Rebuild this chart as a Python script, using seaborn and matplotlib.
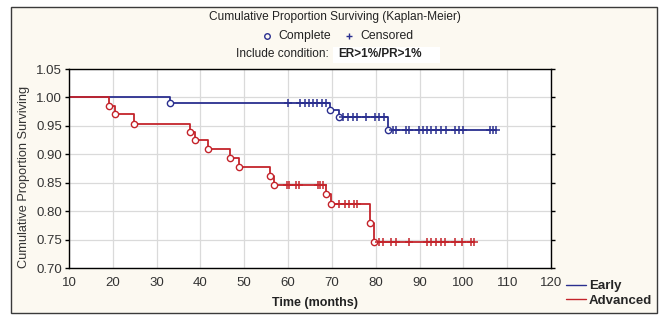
import matplotlib
matplotlib.use("Agg")
import matplotlib.pyplot as plt
import numpy as np
import pandas as pd
import seaborn as sns
from matplotlib.patches import Rectangle
from matplotlib.lines import Line2D

# Kaplan-Meier data
# Early group
early_event_t = [33.0, 69.5, 71.7, 82.7]
early_event_s = [0.990, 0.978, 0.965, 0.943]
early_cens_t = [60.0, 62.8, 63.8, 64.8, 65.7, 66.7, 67.7, 68.7,
                72.5, 73.6, 74.7, 75.8, 77.8, 79.9, 80.8, 82.0,
                83.9, 84.6, 86.9, 87.6, 89.9, 90.8, 91.8, 92.7, 93.7, 94.8,
                96.0, 98.2, 99.0, 100.0, 106.0, 106.8, 107.4]
early_end = 107.4

# Advanced group
adv_event_t = [19.2, 20.5, 24.8, 37.7, 38.7, 41.7, 46.8, 48.8, 55.8, 56.7,
               68.7, 69.8, 78.8, 79.7]
adv_event_s = [0.985, 0.971, 0.954, 0.940, 0.925, 0.909, 0.894, 0.878, 0.862,
               0.846, 0.830, 0.812, 0.780, 0.746]
adv_cens_t = [59.8, 60.3, 61.8, 62.4, 66.8, 67.3, 67.9,
              71.7, 72.9, 74.0, 75.0, 75.7,
              80.8, 81.6, 83.5, 84.6, 87.7, 91.8, 92.6, 93.7, 94.8, 95.9,
              98.2, 99.8, 101.7, 102.5]
adv_end = 102.5

groups = ["Early", "Advanced"]
colors = {"Early": "#2a2f8f", "Advanced": "#c4242b"}
x_ticks = list(range(10, 121, 10))
y_ticks = [0.70, 0.75, 0.80, 0.85, 0.90, 0.95, 1.00, 1.05]

sns.set_style("whitegrid")
plt.rcParams["font.family"] = ["Liberation Sans", "DejaVu Sans"]


def curve(name, ev_t, ev_s, end):
    t = [10.0] + ev_t + [end]
    s = [1.0] + ev_s + [ev_s[-1]]
    return pd.DataFrame({"time": t, "surv": s, "group": name})


def level_at(ev_t, ev_s, times):
    t = np.array([10.0] + ev_t)
    s = np.array([1.0] + ev_s)
    idx = np.searchsorted(t, np.array(times), side="right") - 1
    return s[idx]


df = pd.concat([curve("Early", early_event_t, early_event_s, early_end),
                curve("Advanced", adv_event_t, adv_event_s, adv_end)])

fig = plt.figure(figsize=(6.59, 3.16), dpi=100, facecolor="white")
fig.add_artist(Rectangle((11 / 659, 1 - 313 / 316), 646 / 659, 306 / 316,
                         transform=fig.transFigure, facecolor="#fcf9f1",
                         edgecolor="#3a3a3a", lw=1.0, zorder=-1))
ax = fig.add_axes([69 / 659, 1 - 268 / 316, 482 / 659, 199 / 316])
ax.set_facecolor("white")

sns.lineplot(data=df, x="time", y="surv", hue="group", hue_order=groups,
             palette=colors, drawstyle="steps-post", estimator=None, sort=False,
             linewidth=1.3, legend=False, ax=ax)

for name, ev_t, ev_s, cens in [("Early", early_event_t, early_event_s, early_cens_t),
                               ("Advanced", adv_event_t, adv_event_s, adv_cens_t)]:
    c = colors[name]
    ax.plot(ev_t, ev_s, linestyle="none", marker="o", markersize=4.5,
            markerfacecolor="white", markeredgecolor=c, markeredgewidth=1.0, zorder=4)
    ax.plot(cens, level_at(ev_t, ev_s, cens), linestyle="none", marker="+",
            markersize=6, markeredgewidth=1.1, color=c, zorder=4)

ax.set_xlim(10, 120)
ax.set_ylim(0.70, 1.05)
ax.set_xticks(x_ticks)
ax.set_yticks(y_ticks)
ax.set_yticklabels([f"{v:.2f}" for v in y_ticks])
ax.grid(True, color="#dadada", linewidth=0.9)
for sp in ax.spines.values():
    sp.set_color("black")
    sp.set_linewidth(1.0)
ax.tick_params(axis="y", which="both", left=True, right=True, direction="out",
               length=3, width=1, color="black", labelsize=9.5, labelcolor="#333333", pad=2)
ax.tick_params(axis="x", bottom=False, labelsize=9.5, labelcolor="#333333", pad=3)
ax.set_xlabel("")
ax.set_ylabel("")

fig.text(24 / 659, 1 - 177 / 316, "Cumulative Proportion Surviving", rotation=90,
         ha="center", va="center", fontsize=9.2, color="#333333")
fig.text(315 / 659, 1 - 303 / 316, "Time (months)", ha="center", va="center",
         fontsize=9, fontweight="bold", color="#222222")

# header texts
fig.text(335 / 659, 1 - 17 / 316, "Cumulative Proportion Surviving (Kaplan-Meier)",
         ha="center", va="center", fontsize=8.6, color="#222222")
fig.add_artist(Line2D([267 / 659], [1 - 36 / 316], marker="o", markersize=4,
                      markerfacecolor="none", markeredgecolor="#2a2f8f",
                      markeredgewidth=1.0, transform=fig.transFigure))
fig.text(278 / 659, 1 - 36 / 316, "Complete", ha="left", va="center",
         fontsize=8.8, color="#222222")
fig.add_artist(Line2D([349 / 659], [1 - 36 / 316], marker="+", markersize=5,
                      color="#2a2f8f", markeredgewidth=1.0, transform=fig.transFigure))
fig.text(360 / 659, 1 - 36 / 316, "Censored", ha="left", va="center",
         fontsize=8.8, color="#222222")
fig.add_artist(Rectangle((333 / 659, 1 - 63 / 316), 107 / 659, 16 / 316,
                         transform=fig.transFigure, facecolor="white",
                         edgecolor="none", zorder=0))
fig.text(329 / 659, 1 - 54 / 316, "Include condition:", ha="right", va="center",
         fontsize=8.6, color="#222222")
fig.text(338 / 659, 1 - 54 / 316, "ER>1%/PR>1%", ha="left", va="center",
         fontsize=8.5, fontweight="bold", color="#222222")

handles = [Line2D([], [], color=colors[g], lw=1.0) for g in groups]
fig.legend(handles, groups, loc="upper left", bbox_to_anchor=(566 / 659, 1 - 280 / 316),
           frameon=False, handlelength=1.5, handletextpad=0.25, labelspacing=0.2,
           borderaxespad=0, borderpad=0,
           prop={"weight": "bold", "size": 9.5})

fig.savefig("out.png", dpi=100, facecolor="white")
